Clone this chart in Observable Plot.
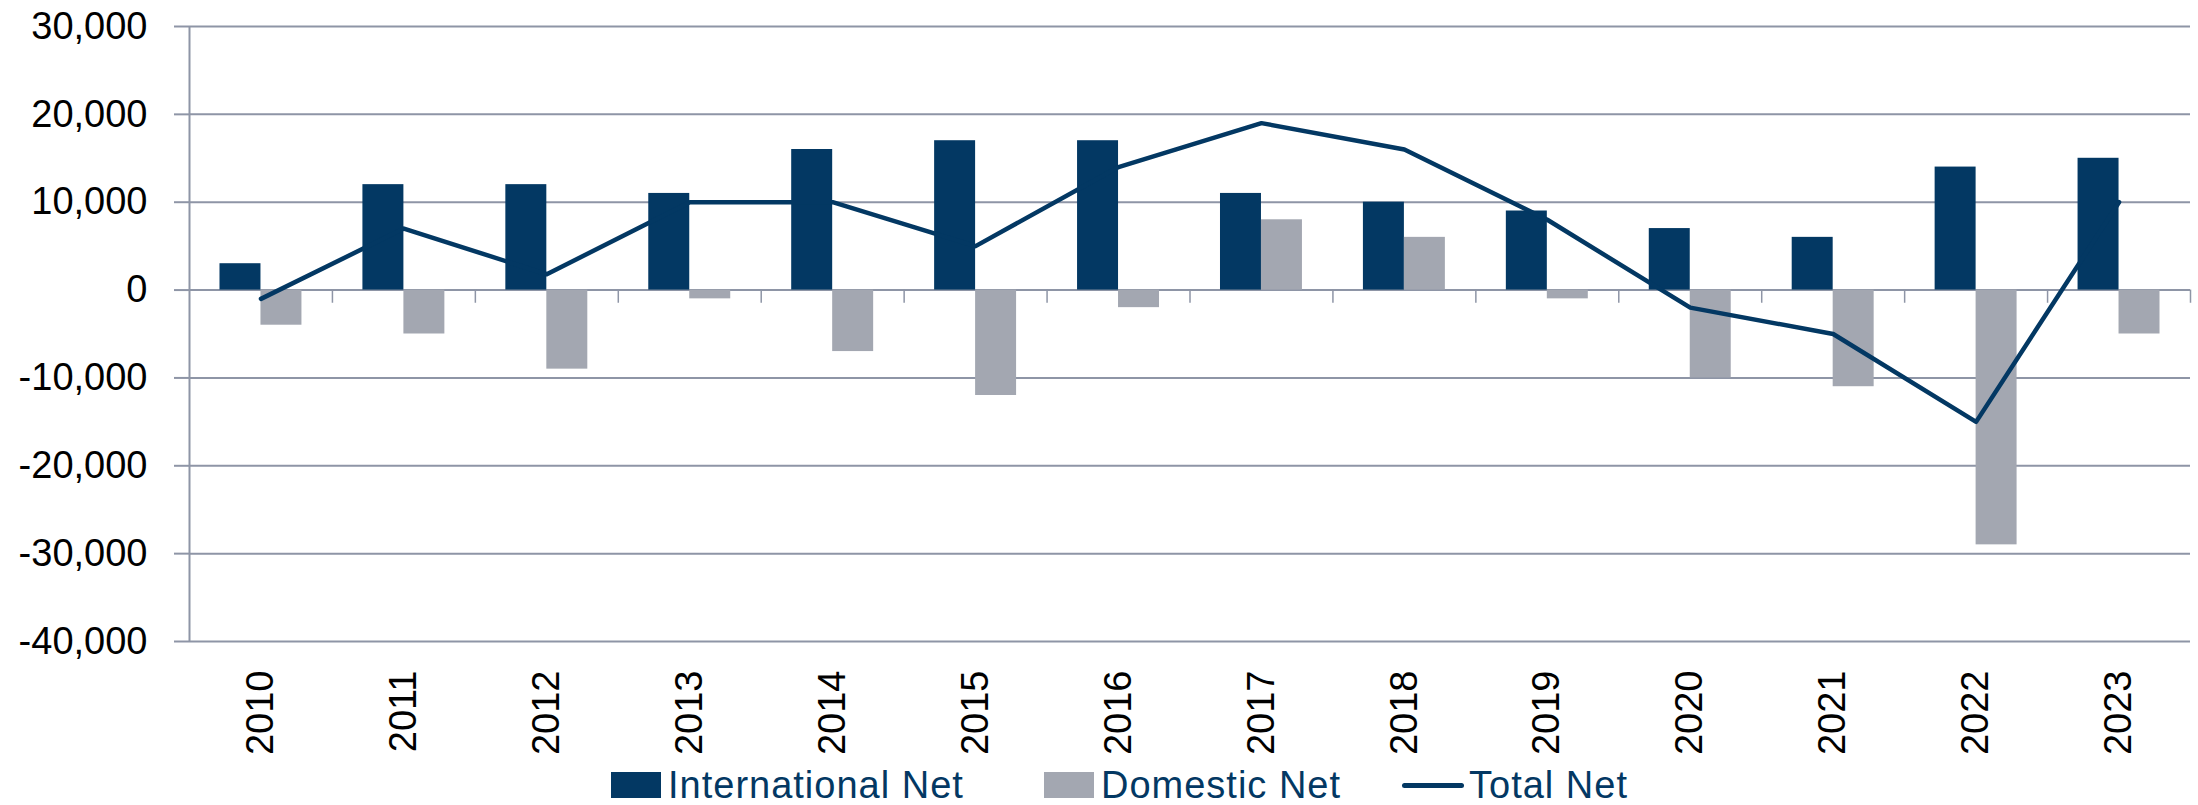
<!DOCTYPE html>
<html><head><meta charset="utf-8">
<script src="https://cdn.jsdelivr.net/npm/d3@7"></script>
<script src="https://cdn.jsdelivr.net/npm/@observablehq/plot@0.6"></script>
<style>
body{margin:0;background:#fff;font-family:"Liberation Sans",Arial,sans-serif;}
#wrap{position:relative;width:2198px;height:805px;overflow:hidden;}
#legend{position:absolute;top:760px;left:0;width:2198px;height:45px;}
.item{position:absolute;top:0;height:50px;display:flex;align-items:center;color:#033863;font-size:38px;letter-spacing:1px;white-space:nowrap;}
.sw{display:inline-block;width:50px;height:26px;margin-right:7px;}
.ln{display:inline-block;width:62px;height:5px;border-radius:3px;margin-right:5px;}
</style></head><body>
<div id="wrap"><div id="chart"></div>
<div id="legend">
<div class="item" style="left:611px"><span class="sw" style="background:#033863"></span>International Net</div>
<div class="item" style="left:1044px"><span class="sw" style="background:#A3A7B1"></span>Domestic Net</div>
<div class="item" style="left:1402px"><span class="ln" style="background:#033863"></span>Total Net</div>
</div></div>
<script>
const years = ["2010","2011","2012","2013","2014","2015","2016","2017","2018","2019","2020","2021","2022","2023"];
const intlNet = [3000,12000,12000,11000,16000,17000,17000,11000,10000,9000,7000,6000,14000,15000];
const domNet = [-4000,-5000,-9000,-1000,-7000,-12000,-2000,8000,6000,-1000,-10000,-11000,-29000,-5000];
const totalNet = [-1000,7000,1800,10000,10000,5000,14000,19000,16000,8000,-2000,-5000,-15000,10000];
const yTicks = [30000,20000,10000,0,-10000,-20000,-30000,-40000];

const rows = years.map((y,i)=>({year:y, intl:intlNet[i], dom:domNet[i], total:totalNet[i]}));

const W = 2198, H = 760, ML = 189, MR = 8, MT = 26, MB = 119;
const step = (W - ML - MR) / years.length;
const pIn = 0.4266;
const half = step * (1 - pIn) / 2;
const gridColor = "#8E95A6";
const navy = "#033863", grey = "#A3A7B1";
const fmt = d3.format(",");

const chart = Plot.plot({
  width: W, height: H,
  marginLeft: ML, marginRight: MR, marginTop: MT, marginBottom: MB,
  style: {fontFamily: '"Liberation Sans", Arial, sans-serif', background: "#fff"},
  x: {type: "band", domain: years, paddingInner: pIn, paddingOuter: pIn/2, round: false, axis: null},
  y: {domain: [-40000, 30000], axis: null},
  marks: [
    Plot.ruleY(yTicks, {stroke: gridColor, strokeWidth: 2}),
    Plot.axisY(yTicks, {tickSize: 15, tickPadding: 27, stroke: gridColor, strokeWidth: 2, strokeOpacity: 1,
      tickFormat: d => fmt(d).replace("−","-"), fontSize: 38, fill: "#000"}),
    Plot.ruleX([years[0]], {x: d => d, dx: -step/2, y1: -40000, y2: 30000, stroke: gridColor, strokeWidth: 2}),
    Plot.ruleX(years.slice(1), {x: d => d, dx: -step/2, y1: 0, y2: -1500, stroke: gridColor, strokeWidth: 1.5}),
    Plot.ruleX([years[years.length-1]], {x: d => d, dx: step/2, y1: 0, y2: -1500, stroke: gridColor, strokeWidth: 1.5}),
    Plot.barY(rows, {x: "year", y: "intl", fill: navy, insetRight: half}),
    Plot.barY(rows, {x: "year", y: "dom", fill: grey, insetLeft: half}),
    Plot.line(rows, {x: "year", y: "total", stroke: navy, strokeWidth: 4.5, strokeLinecap: "round", strokeLinejoin: "round"}),
    Plot.text(years, {x: d => d, y: -40000, dy: 29, text: d => d, rotate: -90, textAnchor: "end", lineAnchor: "middle", fontSize: 38, fill: "#000"})
  ]
});
document.getElementById("chart").appendChild(chart);
</script>
</body></html>
